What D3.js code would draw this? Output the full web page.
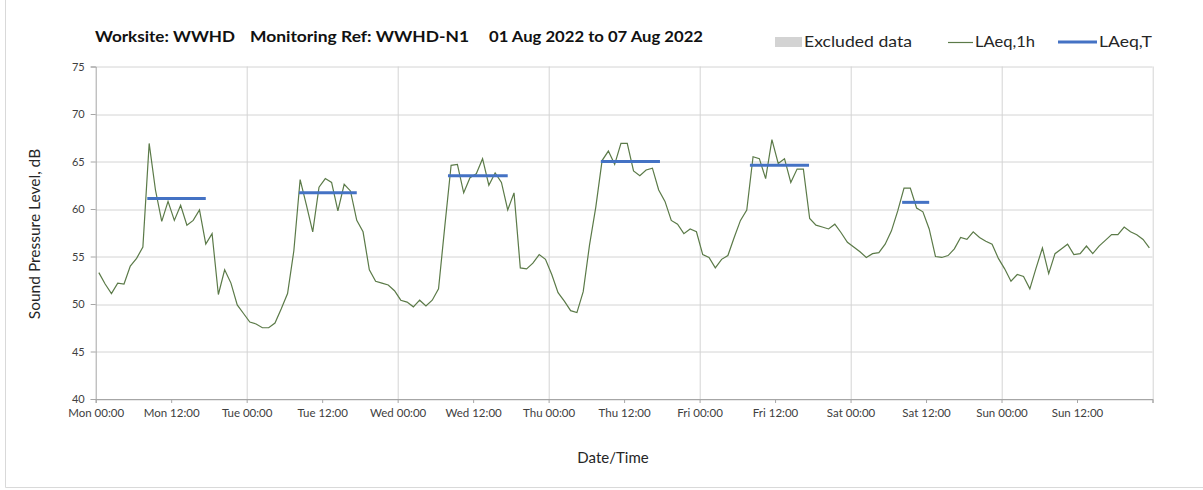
<!DOCTYPE html>
<html>
<head>
<meta charset="utf-8">
<script src="https://cdn.jsdelivr.net/npm/d3@7"></script>
<style>
  body { margin: 0; background: #fff; }
  text { font-family: Lato, "Open Sans", sans-serif; }
</style>
</head>
<body>
<div id="chart"></div>
<script>
// hourly LAeq,1h values (dB), one array per day, hour 00 .. 23
const mon = [53.3, 52.1, 51.1, 52.2, 52.1, 54.0, 54.8, 56.0, 66.9, 62.0, 58.7, 60.8, 58.8, 60.4, 58.3, 58.8, 59.9, 56.3, 57.4, 51.0, 53.6, 52.2, 49.9, 49.0];
const tue = [48.1, 47.9, 47.5, 47.5, 48.0, 49.5, 51.1, 55.6, 63.1, 60.4, 57.6, 62.3, 63.2, 62.8, 59.8, 62.6, 61.9, 58.8, 57.6, 53.6, 52.4, 52.2, 52.0, 51.4];
const wed = [50.4, 50.2, 49.7, 50.4, 49.8, 50.4, 51.6, 58.2, 64.6, 64.7, 61.7, 63.3, 63.7, 65.3, 62.5, 63.8, 62.8, 59.9, 61.7, 53.8, 53.7, 54.3, 55.2, 54.7];
const thu = [53.1, 51.2, 50.3, 49.3, 49.1, 51.3, 56.2, 60.2, 65.1, 66.1, 64.7, 66.9, 66.9, 64.0, 63.5, 64.1, 64.3, 62.0, 60.8, 58.8, 58.4, 57.4, 57.9, 57.6];
const fri = [55.2, 54.9, 53.8, 54.7, 55.1, 57.0, 58.8, 59.9, 65.5, 65.3, 63.2, 67.3, 64.8, 65.3, 62.8, 64.2, 64.2, 59.0, 58.3, 58.1, 57.9, 58.4, 57.5, 56.5];
const sat = [56.0, 55.5, 54.9, 55.3, 55.4, 56.3, 57.7, 59.8, 62.2, 62.2, 60.1, 59.7, 57.9, 55.0, 54.9, 55.1, 55.8, 57.0, 56.8, 57.6, 57.0, 56.6, 56.3, 54.8];
const sun = [53.7, 52.4, 53.1, 52.9, 51.6, 53.8, 55.9, 53.2, 55.3, 55.8, 56.3, 55.2, 55.3, 56.1, 55.3, 56.1, 56.7, 57.3, 57.3, 58.1, 57.6, 57.3, 56.8, 55.9];

// LAeq,T daytime periods: day index, start hour, end hour, level
const ltDay   = [0, 1, 2, 3, 4, 5];
const ltStart = [8.2, 8.3, 8.0, 8.3, 8.0, 8.2];
const ltEnd   = [17.5, 17.5, 17.5, 17.7, 17.4, 12.5];
const ltValue = [61.1, 61.7, 63.5, 65.0, 64.6, 60.7];

const dayNames = ["Mon", "Tue", "Wed", "Thu", "Fri", "Sat", "Sun"];
const tickTimes = ["00:00", "12:00"];
const yTicks = [40, 45, 50, 55, 60, 65, 70, 75];

const hourly = [mon, tue, wed, thu, fri, sat, sun].flat()
  .map((v, i) => ({ t: i + 0.5, v: v }));

const W = 1203, H = 490;
const margin = { top: 66.5, right: 50.5, bottom: 91, left: 95.7 };
const width = W - margin.left - margin.right;
const height = H - margin.top - margin.bottom;

const svg = d3.select("#chart").append("svg")
  .attr("width", W)
  .attr("height", H);

// outer frame (left and bottom edges visible)
svg.append("path")
  .attr("d", `M5.5,0V487.5H${W}`)
  .attr("fill", "none")
  .attr("stroke", "#d9d9d9");

const g = svg.append("g")
  .attr("transform", `translate(${margin.left},${margin.top})`);

const x = d3.scaleLinear().domain([0, 168]).range([0, width]);
const y = d3.scaleLinear().domain([40, 75]).range([height, 0]);

// horizontal grid
g.append("g")
  .selectAll("line")
  .data(yTicks)
  .join("line")
  .attr("x1", 0).attr("x2", width)
  .attr("y1", d => Math.round(y(d)) + 0.5).attr("y2", d => Math.round(y(d)) + 0.5)
  .attr("stroke", "#d4d4d4");

// vertical grid at each midnight
g.append("g")
  .selectAll("line")
  .data(d3.range(1, 8))
  .join("line")
  .attr("x1", d => Math.round(x(d * 24)) + 0.5).attr("x2", d => Math.round(x(d * 24)) + 0.5)
  .attr("y1", 0).attr("y2", height)
  .attr("stroke", "#d4d4d4");

// y axis
const yAxis = g.append("g")
  .call(d3.axisLeft(y).tickValues(yTicks).tickSize(5).tickPadding(6));
yAxis.select(".domain").attr("stroke", "#a6a6a6");
yAxis.selectAll(".tick line").attr("stroke", "#a6a6a6");
yAxis.selectAll("text")
  .attr("fill", "#404040")
  .style("font-size", "11px");

// x axis
const xTickVals = d3.range(0, 169, 12);
const xAxis = g.append("g")
  .attr("transform", `translate(0,${height})`)
  .call(d3.axisBottom(x)
    .tickValues(xTickVals)
    .tickSize(4)
    .tickPadding(6)
    .tickFormat(d => d >= 168 ? "" : dayNames[Math.floor(d / 24)] + " " + tickTimes[(d % 24) / 12]));
xAxis.select(".domain").attr("stroke", "#a6a6a6");
xAxis.selectAll(".tick line").attr("stroke", "#a6a6a6");
xAxis.selectAll("text")
  .attr("fill", "#404040")
  .style("font-size", "11.5px");

// LAeq,1h line
g.append("path")
  .datum(hourly)
  .attr("fill", "none")
  .attr("stroke", "#5b7a48")
  .attr("stroke-width", 1.2)
  .attr("d", d3.line()
    .x(d => x(d.t))
    .y(d => y(d.v)));

// LAeq,T bars
g.append("g")
  .selectAll("line")
  .data(ltValue.map((v, i) => ({ day: ltDay[i], s: ltStart[i], e: ltEnd[i], v: v })))
  .join("line")
  .attr("x1", d => x(d.day * 24 + d.s))
  .attr("x2", d => x(d.day * 24 + d.e))
  .attr("y1", d => y(d.v))
  .attr("y2", d => y(d.v))
  .attr("stroke", "#4472c4")
  .attr("stroke-width", 3);

// axis titles
svg.append("text")
  .attr("x", 613).attr("y", 463)
  .attr("text-anchor", "middle")
  .attr("fill", "#262626")
  .style("font-size", "15px")
  .text("Date/Time");

svg.append("text")
  .attr("transform", "translate(40,234) rotate(-90)")
  .attr("text-anchor", "middle")
  .attr("fill", "#262626")
  .style("font-size", "15.5px")
  .text("Sound Pressure Level, dB");

// title
const titleParts = [
  { x: 95, w: 140, s: "Worksite: WWHD" },
  { x: 250, w: 219, s: "Monitoring Ref: WWHD-N1" },
  { x: 489, w: 214, s: "01 Aug 2022 to 07 Aug 2022" }
];
svg.append("g")
  .selectAll("text")
  .data(titleParts)
  .join("text")
  .attr("x", d => d.x).attr("y", 42)
  .attr("textLength", d => d.w)
  .attr("lengthAdjust", "spacingAndGlyphs")
  .attr("fill", "#111")
  .style("font-size", "15px")
  .style("font-weight", "bold")
  .text(d => d.s);

// legend
const leg = svg.append("g");
leg.append("rect")
  .attr("x", 775).attr("y", 37).attr("width", 27).attr("height", 10)
  .attr("fill", "#d3d3d3");
leg.append("text")
  .attr("x", 804).attr("y", 47)
  .attr("textLength", 108).attr("lengthAdjust", "spacingAndGlyphs")
  .attr("fill", "#262626").style("font-size", "15px")
  .text("Excluded data");
leg.append("line")
  .attr("x1", 948).attr("x2", 973).attr("y1", 42.5).attr("y2", 42.5)
  .attr("stroke", "#5b7a48").attr("stroke-width", 1.2);
leg.append("text")
  .attr("x", 975).attr("y", 47)
  .attr("textLength", 60).attr("lengthAdjust", "spacingAndGlyphs")
  .attr("fill", "#262626").style("font-size", "15px")
  .text("LAeq,1h");
leg.append("line")
  .attr("x1", 1058).attr("x2", 1097).attr("y1", 42).attr("y2", 42)
  .attr("stroke", "#4472c4").attr("stroke-width", 3);
leg.append("text")
  .attr("x", 1099).attr("y", 47)
  .attr("textLength", 53).attr("lengthAdjust", "spacingAndGlyphs")
  .attr("fill", "#262626").style("font-size", "15px")
  .text("LAeq,T");
</script>
</body>
</html>
